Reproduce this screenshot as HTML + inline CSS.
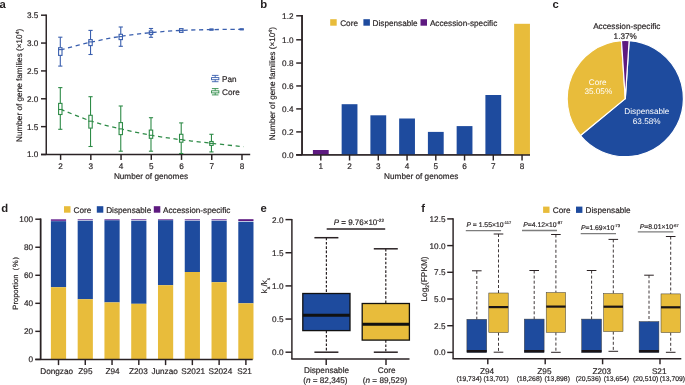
<!DOCTYPE html>
<html><head><meta charset="utf-8"><style>
html,body{margin:0;padding:0;background:#fff;width:685px;height:385px;overflow:hidden}
svg{display:block;font-family:"Liberation Sans",sans-serif;will-change:transform;text-rendering:geometricPrecision}
</style></head><body>
<svg width="685" height="385" viewBox="0 0 685 385">
<rect width="685" height="385" fill="#fff"/>
<text x="-0.60" y="8.20" font-size="11.3" text-anchor="start" fill="#231f20" stroke="#231f20" stroke-width="0" font-weight="bold" >a</text>
<line x1="46.25" y1="14.60" x2="46.25" y2="154.50" stroke="#2a2224" stroke-width="1.45" />
<line x1="41.00" y1="154.50" x2="250.20" y2="154.50" stroke="#2a2224" stroke-width="1.45" />
<line x1="41.00" y1="15.20" x2="46.25" y2="15.20" stroke="#2a2224" stroke-width="1.45" />
<text x="38.30" y="18.10" font-size="8.2" text-anchor="end" fill="#2a2526" stroke="#2a2526" stroke-width="0.18" font-weight="normal" >3.5</text>
<line x1="41.00" y1="43.06" x2="46.25" y2="43.06" stroke="#2a2224" stroke-width="1.45" />
<text x="38.30" y="45.96" font-size="8.2" text-anchor="end" fill="#2a2526" stroke="#2a2526" stroke-width="0.18" font-weight="normal" >3.0</text>
<line x1="41.00" y1="70.92" x2="46.25" y2="70.92" stroke="#2a2224" stroke-width="1.45" />
<text x="38.30" y="73.82" font-size="8.2" text-anchor="end" fill="#2a2526" stroke="#2a2526" stroke-width="0.18" font-weight="normal" >2.5</text>
<line x1="41.00" y1="98.78" x2="46.25" y2="98.78" stroke="#2a2224" stroke-width="1.45" />
<text x="38.30" y="101.68" font-size="8.2" text-anchor="end" fill="#2a2526" stroke="#2a2526" stroke-width="0.18" font-weight="normal" >2.0</text>
<line x1="41.00" y1="126.64" x2="46.25" y2="126.64" stroke="#2a2224" stroke-width="1.45" />
<text x="38.30" y="129.54" font-size="8.2" text-anchor="end" fill="#2a2526" stroke="#2a2526" stroke-width="0.18" font-weight="normal" >1.5</text>
<line x1="41.00" y1="154.50" x2="46.25" y2="154.50" stroke="#2a2224" stroke-width="1.45" />
<text x="38.30" y="157.40" font-size="8.2" text-anchor="end" fill="#2a2526" stroke="#2a2526" stroke-width="0.18" font-weight="normal" >1.0</text>
<line x1="60.60" y1="154.50" x2="60.60" y2="159.90" stroke="#2a2224" stroke-width="1.45" />
<text x="60.60" y="169.00" font-size="8.2" text-anchor="middle" fill="#2a2526" stroke="#2a2526" stroke-width="0.18" font-weight="normal" >2</text>
<line x1="90.83" y1="154.50" x2="90.83" y2="159.90" stroke="#2a2224" stroke-width="1.45" />
<text x="90.83" y="169.00" font-size="8.2" text-anchor="middle" fill="#2a2526" stroke="#2a2526" stroke-width="0.18" font-weight="normal" >3</text>
<line x1="121.06" y1="154.50" x2="121.06" y2="159.90" stroke="#2a2224" stroke-width="1.45" />
<text x="121.06" y="169.00" font-size="8.2" text-anchor="middle" fill="#2a2526" stroke="#2a2526" stroke-width="0.18" font-weight="normal" >4</text>
<line x1="151.29" y1="154.50" x2="151.29" y2="159.90" stroke="#2a2224" stroke-width="1.45" />
<text x="151.29" y="169.00" font-size="8.2" text-anchor="middle" fill="#2a2526" stroke="#2a2526" stroke-width="0.18" font-weight="normal" >5</text>
<line x1="181.52" y1="154.50" x2="181.52" y2="159.90" stroke="#2a2224" stroke-width="1.45" />
<text x="181.52" y="169.00" font-size="8.2" text-anchor="middle" fill="#2a2526" stroke="#2a2526" stroke-width="0.18" font-weight="normal" >6</text>
<line x1="211.75" y1="154.50" x2="211.75" y2="159.90" stroke="#2a2224" stroke-width="1.45" />
<text x="211.75" y="169.00" font-size="8.2" text-anchor="middle" fill="#2a2526" stroke="#2a2526" stroke-width="0.18" font-weight="normal" >7</text>
<line x1="241.98" y1="154.50" x2="241.98" y2="159.90" stroke="#2a2224" stroke-width="1.45" />
<text x="241.98" y="169.00" font-size="8.2" text-anchor="middle" fill="#2a2526" stroke="#2a2526" stroke-width="0.18" font-weight="normal" >8</text>
<text x="151.00" y="178.50" font-size="8.2" text-anchor="middle" fill="#2a2526" stroke="#2a2526" stroke-width="0.18" font-weight="normal" >Number of genomes</text>
<g transform="translate(22,85.4) rotate(-90)">
<text x="0.00" y="0.00" font-size="8.2" text-anchor="middle" fill="#2a2526" stroke="#2a2526" stroke-width="0.18" font-weight="normal" >Number of gene families (×10<tspan font-size="5" dy="-3">4</tspan><tspan dy="3">)</tspan></text>
</g>
<path d="M60.60,49.80 C65.63,48.53 80.73,44.45 90.80,42.20 C100.87,39.95 110.92,37.90 121.00,36.30 C131.08,34.70 141.22,33.58 151.30,32.60 C161.38,31.62 171.42,30.90 181.50,30.40 C191.58,29.90 201.27,29.78 211.80,29.60 C222.33,29.42 239.22,29.35 244.70,29.30" fill="none" stroke="#3a5fae" stroke-width="1.3" stroke-dasharray="4.2 3.6"/>
<path d="M60.60,109.30 C65.63,111.25 80.73,117.72 90.80,121.00 C100.87,124.28 110.92,126.62 121.00,129.00 C131.08,131.38 141.22,133.50 151.30,135.30 C161.38,137.10 171.42,138.47 181.50,139.80 C191.58,141.13 201.47,142.15 211.80,143.30 C222.13,144.45 238.22,146.13 243.50,146.70" fill="none" stroke="#2e8b47" stroke-width="1.3" stroke-dasharray="4.2 3.6"/>
<line x1="60.30" y1="37.20" x2="60.30" y2="47.70" stroke="#3a5fae" stroke-width="1.1" />
<line x1="60.30" y1="55.40" x2="60.30" y2="66.10" stroke="#3a5fae" stroke-width="1.1" />
<line x1="58.20" y1="37.20" x2="62.40" y2="37.20" stroke="#3a5fae" stroke-width="1.1" />
<line x1="58.20" y1="66.10" x2="62.40" y2="66.10" stroke="#3a5fae" stroke-width="1.1" />
<rect x="58.60" y="47.70" width="3.40" height="7.70" fill="#fff" stroke="#3a5fae" stroke-width="1.1" />
<line x1="58.10" y1="49.60" x2="62.50" y2="49.60" stroke="#3a5fae" stroke-width="1.1" />
<line x1="90.53" y1="30.40" x2="90.53" y2="39.60" stroke="#3a5fae" stroke-width="1.1" />
<line x1="90.53" y1="45.60" x2="90.53" y2="54.50" stroke="#3a5fae" stroke-width="1.1" />
<line x1="88.43" y1="30.40" x2="92.63" y2="30.40" stroke="#3a5fae" stroke-width="1.1" />
<line x1="88.43" y1="54.50" x2="92.63" y2="54.50" stroke="#3a5fae" stroke-width="1.1" />
<rect x="88.83" y="39.60" width="3.40" height="6.00" fill="#fff" stroke="#3a5fae" stroke-width="1.1" />
<line x1="88.33" y1="41.90" x2="92.73" y2="41.90" stroke="#3a5fae" stroke-width="1.1" />
<line x1="120.76" y1="27.00" x2="120.76" y2="34.30" stroke="#3a5fae" stroke-width="1.1" />
<line x1="120.76" y1="39.60" x2="120.76" y2="46.30" stroke="#3a5fae" stroke-width="1.1" />
<line x1="118.66" y1="27.00" x2="122.86" y2="27.00" stroke="#3a5fae" stroke-width="1.1" />
<line x1="118.66" y1="46.30" x2="122.86" y2="46.30" stroke="#3a5fae" stroke-width="1.1" />
<rect x="119.06" y="34.30" width="3.40" height="5.30" fill="#fff" stroke="#3a5fae" stroke-width="1.1" />
<line x1="118.56" y1="36.60" x2="122.96" y2="36.60" stroke="#3a5fae" stroke-width="1.1" />
<line x1="150.99" y1="28.50" x2="150.99" y2="30.90" stroke="#3a5fae" stroke-width="1.1" />
<line x1="150.99" y1="34.50" x2="150.99" y2="37.30" stroke="#3a5fae" stroke-width="1.1" />
<line x1="148.89" y1="28.50" x2="153.09" y2="28.50" stroke="#3a5fae" stroke-width="1.1" />
<line x1="148.89" y1="37.30" x2="153.09" y2="37.30" stroke="#3a5fae" stroke-width="1.1" />
<rect x="149.29" y="30.90" width="3.40" height="3.60" fill="#fff" stroke="#3a5fae" stroke-width="1.1" />
<line x1="148.79" y1="32.60" x2="153.19" y2="32.60" stroke="#3a5fae" stroke-width="1.1" />
<line x1="181.22" y1="28.70" x2="181.22" y2="28.70" stroke="#3a5fae" stroke-width="1.1" />
<line x1="181.22" y1="32.30" x2="181.22" y2="32.30" stroke="#3a5fae" stroke-width="1.1" />
<line x1="179.12" y1="28.70" x2="183.32" y2="28.70" stroke="#3a5fae" stroke-width="1.1" />
<line x1="179.12" y1="32.30" x2="183.32" y2="32.30" stroke="#3a5fae" stroke-width="1.1" />
<rect x="179.52" y="28.70" width="3.40" height="3.60" fill="#fff" stroke="#3a5fae" stroke-width="1.1" />
<line x1="179.02" y1="30.40" x2="183.42" y2="30.40" stroke="#3a5fae" stroke-width="1.1" />
<line x1="211.45" y1="28.90" x2="211.45" y2="28.90" stroke="#3a5fae" stroke-width="1.1" />
<line x1="211.45" y1="30.20" x2="211.45" y2="30.20" stroke="#3a5fae" stroke-width="1.1" />
<line x1="209.35" y1="28.90" x2="213.55" y2="28.90" stroke="#3a5fae" stroke-width="1.1" />
<line x1="209.35" y1="30.20" x2="213.55" y2="30.20" stroke="#3a5fae" stroke-width="1.1" />
<line x1="209.25" y1="29.60" x2="213.65" y2="29.60" stroke="#3a5fae" stroke-width="1.1" />
<line x1="241.68" y1="28.80" x2="241.68" y2="28.80" stroke="#3a5fae" stroke-width="1.1" />
<line x1="241.68" y1="29.90" x2="241.68" y2="29.90" stroke="#3a5fae" stroke-width="1.1" />
<line x1="239.58" y1="28.80" x2="243.78" y2="28.80" stroke="#3a5fae" stroke-width="1.1" />
<line x1="239.58" y1="29.90" x2="243.78" y2="29.90" stroke="#3a5fae" stroke-width="1.1" />
<line x1="239.48" y1="29.30" x2="243.88" y2="29.30" stroke="#3a5fae" stroke-width="1.1" />
<line x1="60.30" y1="87.60" x2="60.30" y2="103.40" stroke="#2e8b47" stroke-width="1.1" />
<line x1="60.30" y1="114.50" x2="60.30" y2="129.30" stroke="#2e8b47" stroke-width="1.1" />
<line x1="58.20" y1="87.60" x2="62.40" y2="87.60" stroke="#2e8b47" stroke-width="1.1" />
<line x1="58.20" y1="129.30" x2="62.40" y2="129.30" stroke="#2e8b47" stroke-width="1.1" />
<rect x="58.60" y="103.40" width="3.40" height="11.10" fill="#fff" stroke="#2e8b47" stroke-width="1.1" />
<line x1="58.10" y1="109.50" x2="62.50" y2="109.50" stroke="#2e8b47" stroke-width="1.1" />
<line x1="90.53" y1="96.70" x2="90.53" y2="115.30" stroke="#2e8b47" stroke-width="1.1" />
<line x1="90.53" y1="128.10" x2="90.53" y2="146.50" stroke="#2e8b47" stroke-width="1.1" />
<line x1="88.43" y1="96.70" x2="92.63" y2="96.70" stroke="#2e8b47" stroke-width="1.1" />
<line x1="88.43" y1="146.50" x2="92.63" y2="146.50" stroke="#2e8b47" stroke-width="1.1" />
<rect x="88.83" y="115.30" width="3.40" height="12.80" fill="#fff" stroke="#2e8b47" stroke-width="1.1" />
<line x1="88.33" y1="121.20" x2="92.73" y2="121.20" stroke="#2e8b47" stroke-width="1.1" />
<line x1="120.76" y1="106.00" x2="120.76" y2="122.60" stroke="#2e8b47" stroke-width="1.1" />
<line x1="120.76" y1="134.60" x2="120.76" y2="151.20" stroke="#2e8b47" stroke-width="1.1" />
<line x1="118.66" y1="106.00" x2="122.86" y2="106.00" stroke="#2e8b47" stroke-width="1.1" />
<line x1="118.66" y1="151.20" x2="122.86" y2="151.20" stroke="#2e8b47" stroke-width="1.1" />
<rect x="119.06" y="122.60" width="3.40" height="12.00" fill="#fff" stroke="#2e8b47" stroke-width="1.1" />
<line x1="118.56" y1="128.90" x2="122.96" y2="128.90" stroke="#2e8b47" stroke-width="1.1" />
<line x1="150.99" y1="117.70" x2="150.99" y2="130.10" stroke="#2e8b47" stroke-width="1.1" />
<line x1="150.99" y1="138.30" x2="150.99" y2="151.20" stroke="#2e8b47" stroke-width="1.1" />
<line x1="148.89" y1="117.70" x2="153.09" y2="117.70" stroke="#2e8b47" stroke-width="1.1" />
<line x1="148.89" y1="151.20" x2="153.09" y2="151.20" stroke="#2e8b47" stroke-width="1.1" />
<rect x="149.29" y="130.10" width="3.40" height="8.20" fill="#fff" stroke="#2e8b47" stroke-width="1.1" />
<line x1="148.79" y1="135.30" x2="153.19" y2="135.30" stroke="#2e8b47" stroke-width="1.1" />
<line x1="181.22" y1="122.90" x2="181.22" y2="134.30" stroke="#2e8b47" stroke-width="1.1" />
<line x1="181.22" y1="142.20" x2="181.22" y2="153.50" stroke="#2e8b47" stroke-width="1.1" />
<line x1="179.12" y1="122.90" x2="183.32" y2="122.90" stroke="#2e8b47" stroke-width="1.1" />
<line x1="179.12" y1="153.50" x2="183.32" y2="153.50" stroke="#2e8b47" stroke-width="1.1" />
<rect x="179.52" y="134.30" width="3.40" height="7.90" fill="#fff" stroke="#2e8b47" stroke-width="1.1" />
<line x1="179.02" y1="139.60" x2="183.42" y2="139.60" stroke="#2e8b47" stroke-width="1.1" />
<line x1="211.45" y1="134.30" x2="211.45" y2="141.50" stroke="#2e8b47" stroke-width="1.1" />
<line x1="211.45" y1="145.40" x2="211.45" y2="151.90" stroke="#2e8b47" stroke-width="1.1" />
<line x1="209.35" y1="134.30" x2="213.55" y2="134.30" stroke="#2e8b47" stroke-width="1.1" />
<line x1="209.35" y1="151.90" x2="213.55" y2="151.90" stroke="#2e8b47" stroke-width="1.1" />
<rect x="209.75" y="141.50" width="3.40" height="3.90" fill="#fff" stroke="#2e8b47" stroke-width="1.1" />
<line x1="209.25" y1="143.40" x2="213.65" y2="143.40" stroke="#2e8b47" stroke-width="1.1" />
<line x1="211.90" y1="75.40" x2="218.50" y2="75.40" stroke="#3a5fae" stroke-width="0.9" />
<line x1="215.20" y1="75.40" x2="215.20" y2="77.60" stroke="#3a5fae" stroke-width="0.9" />
<rect x="211.55" y="77.60" width="7.30" height="2.10" fill="#fff" stroke="#3a5fae" stroke-width="0.9" />
<line x1="215.20" y1="79.70" x2="215.20" y2="81.70" stroke="#3a5fae" stroke-width="0.9" />
<line x1="211.90" y1="81.70" x2="218.50" y2="81.70" stroke="#3a5fae" stroke-width="0.9" />
<text x="222.00" y="81.90" font-size="8.2" text-anchor="start" fill="#2a2526" stroke="#2a2526" stroke-width="0.18" font-weight="normal" >Pan</text>
<line x1="211.90" y1="88.60" x2="218.50" y2="88.60" stroke="#2e8b47" stroke-width="0.9" />
<line x1="215.20" y1="88.60" x2="215.20" y2="90.80" stroke="#2e8b47" stroke-width="0.9" />
<rect x="211.55" y="90.80" width="7.30" height="2.10" fill="#fff" stroke="#2e8b47" stroke-width="0.9" />
<line x1="215.20" y1="92.90" x2="215.20" y2="94.90" stroke="#2e8b47" stroke-width="0.9" />
<line x1="211.90" y1="94.90" x2="218.50" y2="94.90" stroke="#2e8b47" stroke-width="0.9" />
<text x="222.00" y="95.20" font-size="8.2" text-anchor="start" fill="#2a2526" stroke="#2a2526" stroke-width="0.18" font-weight="normal" >Core</text>
<text x="260.30" y="8.20" font-size="11.3" text-anchor="start" fill="#231f20" stroke="#231f20" stroke-width="0" font-weight="bold" >b</text>
<line x1="302.05" y1="15.10" x2="302.05" y2="154.85" stroke="#2a2224" stroke-width="1.45" />
<line x1="296.20" y1="154.85" x2="530.00" y2="154.85" stroke="#2a2224" stroke-width="1.45" />
<line x1="296.20" y1="154.85" x2="302.05" y2="154.85" stroke="#2a2224" stroke-width="1.45" />
<text x="293.50" y="157.75" font-size="8.2" text-anchor="end" fill="#2a2526" stroke="#2a2526" stroke-width="0.18" font-weight="normal" >0.0</text>
<line x1="296.20" y1="131.90" x2="302.05" y2="131.90" stroke="#2a2224" stroke-width="1.45" />
<text x="293.50" y="134.80" font-size="8.2" text-anchor="end" fill="#2a2526" stroke="#2a2526" stroke-width="0.18" font-weight="normal" >0.2</text>
<line x1="296.20" y1="108.90" x2="302.05" y2="108.90" stroke="#2a2224" stroke-width="1.45" />
<text x="293.50" y="111.80" font-size="8.2" text-anchor="end" fill="#2a2526" stroke="#2a2526" stroke-width="0.18" font-weight="normal" >0.4</text>
<line x1="296.20" y1="85.95" x2="302.05" y2="85.95" stroke="#2a2224" stroke-width="1.45" />
<text x="293.50" y="88.85" font-size="8.2" text-anchor="end" fill="#2a2526" stroke="#2a2526" stroke-width="0.18" font-weight="normal" >0.6</text>
<line x1="296.20" y1="63.05" x2="302.05" y2="63.05" stroke="#2a2224" stroke-width="1.45" />
<text x="293.50" y="65.95" font-size="8.2" text-anchor="end" fill="#2a2526" stroke="#2a2526" stroke-width="0.18" font-weight="normal" >0.8</text>
<line x1="296.20" y1="39.80" x2="302.05" y2="39.80" stroke="#2a2224" stroke-width="1.45" />
<text x="293.50" y="42.70" font-size="8.2" text-anchor="end" fill="#2a2526" stroke="#2a2526" stroke-width="0.18" font-weight="normal" >1.0</text>
<line x1="296.20" y1="15.80" x2="302.05" y2="15.80" stroke="#2a2224" stroke-width="1.45" />
<text x="293.50" y="18.70" font-size="8.2" text-anchor="end" fill="#2a2526" stroke="#2a2526" stroke-width="0.18" font-weight="normal" >1.2</text>
<rect x="312.90" y="150.00" width="15.80" height="4.85" fill="#5e1a80" stroke="none" stroke-width="0" />
<rect x="341.65" y="104.20" width="15.80" height="50.65" fill="#1e4b9e" stroke="none" stroke-width="0" />
<rect x="370.40" y="115.30" width="15.80" height="39.55" fill="#1e4b9e" stroke="none" stroke-width="0" />
<rect x="399.15" y="118.50" width="15.80" height="36.35" fill="#1e4b9e" stroke="none" stroke-width="0" />
<rect x="427.90" y="131.90" width="15.80" height="22.95" fill="#1e4b9e" stroke="none" stroke-width="0" />
<rect x="456.65" y="126.10" width="15.80" height="28.75" fill="#1e4b9e" stroke="none" stroke-width="0" />
<rect x="485.40" y="95.00" width="15.80" height="59.85" fill="#1e4b9e" stroke="none" stroke-width="0" />
<rect x="514.15" y="23.80" width="15.80" height="131.05" fill="#e8bc3b" stroke="none" stroke-width="0" />
<line x1="320.80" y1="154.85" x2="320.80" y2="160.50" stroke="#2a2224" stroke-width="1.45" />
<text x="320.80" y="168.90" font-size="8.2" text-anchor="middle" fill="#2a2526" stroke="#2a2526" stroke-width="0.18" font-weight="normal" >1</text>
<line x1="349.55" y1="154.85" x2="349.55" y2="160.50" stroke="#2a2224" stroke-width="1.45" />
<text x="349.55" y="168.90" font-size="8.2" text-anchor="middle" fill="#2a2526" stroke="#2a2526" stroke-width="0.18" font-weight="normal" >2</text>
<line x1="378.30" y1="154.85" x2="378.30" y2="160.50" stroke="#2a2224" stroke-width="1.45" />
<text x="378.30" y="168.90" font-size="8.2" text-anchor="middle" fill="#2a2526" stroke="#2a2526" stroke-width="0.18" font-weight="normal" >3</text>
<line x1="407.05" y1="154.85" x2="407.05" y2="160.50" stroke="#2a2224" stroke-width="1.45" />
<text x="407.05" y="168.90" font-size="8.2" text-anchor="middle" fill="#2a2526" stroke="#2a2526" stroke-width="0.18" font-weight="normal" >4</text>
<line x1="435.80" y1="154.85" x2="435.80" y2="160.50" stroke="#2a2224" stroke-width="1.45" />
<text x="435.80" y="168.90" font-size="8.2" text-anchor="middle" fill="#2a2526" stroke="#2a2526" stroke-width="0.18" font-weight="normal" >5</text>
<line x1="464.55" y1="154.85" x2="464.55" y2="160.50" stroke="#2a2224" stroke-width="1.45" />
<text x="464.55" y="168.90" font-size="8.2" text-anchor="middle" fill="#2a2526" stroke="#2a2526" stroke-width="0.18" font-weight="normal" >6</text>
<line x1="493.30" y1="154.85" x2="493.30" y2="160.50" stroke="#2a2224" stroke-width="1.45" />
<text x="493.30" y="168.90" font-size="8.2" text-anchor="middle" fill="#2a2526" stroke="#2a2526" stroke-width="0.18" font-weight="normal" >7</text>
<line x1="522.05" y1="154.85" x2="522.05" y2="160.50" stroke="#2a2224" stroke-width="1.45" />
<text x="522.05" y="168.90" font-size="8.2" text-anchor="middle" fill="#2a2526" stroke="#2a2526" stroke-width="0.18" font-weight="normal" >8</text>
<line x1="296.20" y1="154.85" x2="530.00" y2="154.85" stroke="#2a2224" stroke-width="1.45" />
<line x1="302.05" y1="15.10" x2="302.05" y2="154.85" stroke="#2a2224" stroke-width="1.45" />
<text x="421.20" y="178.50" font-size="8.2" text-anchor="middle" fill="#2a2526" stroke="#2a2526" stroke-width="0.18" font-weight="normal" >Number of genomes</text>
<g transform="translate(274.9,83.7) rotate(-90)">
<text x="0.00" y="0.00" font-size="8.2" text-anchor="middle" fill="#2a2526" stroke="#2a2526" stroke-width="0.18" font-weight="normal" >Number of gene families (×10<tspan font-size="5" dy="-3">4</tspan><tspan dy="3">)</tspan></text>
</g>
<rect x="330.20" y="19.20" width="6.50" height="6.50" fill="#e8bc3b" stroke="none" stroke-width="0" />
<text x="340.20" y="25.80" font-size="8.2" text-anchor="start" fill="#2a2526" stroke="#2a2526" stroke-width="0.18" font-weight="normal" >Core</text>
<rect x="363.40" y="19.20" width="6.50" height="6.50" fill="#1e4b9e" stroke="none" stroke-width="0" />
<text x="372.60" y="25.80" font-size="8.2" text-anchor="start" fill="#2a2526" stroke="#2a2526" stroke-width="0.18" font-weight="normal" >Dispensable</text>
<rect x="420.50" y="19.20" width="6.50" height="6.50" fill="#5e1a80" stroke="none" stroke-width="0" />
<text x="429.90" y="25.80" font-size="8.2" text-anchor="start" fill="#2a2526" stroke="#2a2526" stroke-width="0.18" font-weight="normal" >Accession-specific</text>
<text x="552.50" y="8.20" font-size="11.3" text-anchor="start" fill="#231f20" stroke="#231f20" stroke-width="0" font-weight="bold" >c</text>
<path d="M625.3,98.6 L629.15,40.63 A58.1,58.1 0 1 1 580.47,135.56 Z" fill="#1e4b9e" stroke="#fff" stroke-width="1.2" stroke-linejoin="round"/>
<path d="M625.3,98.6 L580.47,135.56 A58.1,58.1 0 0 1 621.45,40.63 Z" fill="#e8bc3b" stroke="#fff" stroke-width="1.2" stroke-linejoin="round"/>
<path d="M625.3,98.6 L621.45,40.63 A58.1,58.1 0 0 1 629.15,40.63 Z" fill="#5e1a80" stroke="#fff" stroke-width="1.2" stroke-linejoin="round"/>
<text x="626.80" y="28.80" font-size="8.2" text-anchor="middle" fill="#2a2526" stroke="#2a2526" stroke-width="0.18" font-weight="normal" >Accession-specific</text>
<text x="625.20" y="38.70" font-size="8.2" text-anchor="middle" fill="#2a2526" stroke="#2a2526" stroke-width="0.18" font-weight="normal" >1.37%</text>
<text x="597.60" y="84.80" font-size="8.2" text-anchor="middle" fill="#fff" stroke="#fff" stroke-width="0" font-weight="normal" >Core</text>
<text x="598.30" y="94.10" font-size="8.2" text-anchor="middle" fill="#fff" stroke="#fff" stroke-width="0" font-weight="normal" >35.05%</text>
<text x="646.90" y="114.00" font-size="8.2" text-anchor="middle" fill="#fff" stroke="#fff" stroke-width="0" font-weight="normal" >Dispensable</text>
<text x="646.70" y="124.10" font-size="8.2" text-anchor="middle" fill="#fff" stroke="#fff" stroke-width="0" font-weight="normal" >63.58%</text>
<text x="1.20" y="212.00" font-size="11.3" text-anchor="start" fill="#231f20" stroke="#231f20" stroke-width="0" font-weight="bold" >d</text>
<line x1="40.60" y1="218.60" x2="40.60" y2="359.40" stroke="#2a2224" stroke-width="1.45" />
<line x1="35.30" y1="359.40" x2="40.60" y2="359.40" stroke="#2a2224" stroke-width="1.45" />
<text x="33.00" y="362.30" font-size="8.2" text-anchor="end" fill="#2a2526" stroke="#2a2526" stroke-width="0.18" font-weight="normal" >0</text>
<line x1="35.30" y1="331.36" x2="40.60" y2="331.36" stroke="#2a2224" stroke-width="1.45" />
<text x="33.00" y="334.26" font-size="8.2" text-anchor="end" fill="#2a2526" stroke="#2a2526" stroke-width="0.18" font-weight="normal" >20</text>
<line x1="35.30" y1="303.32" x2="40.60" y2="303.32" stroke="#2a2224" stroke-width="1.45" />
<text x="33.00" y="306.22" font-size="8.2" text-anchor="end" fill="#2a2526" stroke="#2a2526" stroke-width="0.18" font-weight="normal" >40</text>
<line x1="35.30" y1="275.28" x2="40.60" y2="275.28" stroke="#2a2224" stroke-width="1.45" />
<text x="33.00" y="278.18" font-size="8.2" text-anchor="end" fill="#2a2526" stroke="#2a2526" stroke-width="0.18" font-weight="normal" >60</text>
<line x1="35.30" y1="247.24" x2="40.60" y2="247.24" stroke="#2a2224" stroke-width="1.45" />
<text x="33.00" y="250.14" font-size="8.2" text-anchor="end" fill="#2a2526" stroke="#2a2526" stroke-width="0.18" font-weight="normal" >80</text>
<line x1="35.30" y1="219.20" x2="40.60" y2="219.20" stroke="#2a2224" stroke-width="1.45" />
<text x="33.00" y="222.10" font-size="8.2" text-anchor="end" fill="#2a2526" stroke="#2a2526" stroke-width="0.18" font-weight="normal" >100</text>
<rect x="50.90" y="219.20" width="15.20" height="2.00" fill="#7a3f9e" stroke="none" stroke-width="0" />
<rect x="50.90" y="221.20" width="15.20" height="66.00" fill="#1e4b9e" stroke="none" stroke-width="0" />
<rect x="50.90" y="287.20" width="15.20" height="72.20" fill="#e8bc3b" stroke="none" stroke-width="0" />
<line x1="58.50" y1="359.40" x2="58.50" y2="365.10" stroke="#2a2224" stroke-width="1.45" />
<text x="56.65" y="373.90" font-size="8.2" text-anchor="middle" fill="#2a2526" stroke="#2a2526" stroke-width="0.18" font-weight="normal" >Dongzao</text>
<rect x="77.67" y="219.20" width="15.20" height="0.90" fill="#7a3f9e" stroke="none" stroke-width="0" />
<rect x="77.67" y="220.70" width="15.20" height="78.50" fill="#1e4b9e" stroke="none" stroke-width="0" />
<rect x="77.67" y="299.20" width="15.20" height="60.20" fill="#e8bc3b" stroke="none" stroke-width="0" />
<line x1="85.27" y1="359.40" x2="85.27" y2="365.10" stroke="#2a2224" stroke-width="1.45" />
<text x="85.40" y="373.90" font-size="8.2" text-anchor="middle" fill="#2a2526" stroke="#2a2526" stroke-width="0.18" font-weight="normal" >Z95</text>
<rect x="104.44" y="219.20" width="15.20" height="1.10" fill="#7a3f9e" stroke="none" stroke-width="0" />
<rect x="104.44" y="220.30" width="15.20" height="82.10" fill="#1e4b9e" stroke="none" stroke-width="0" />
<rect x="104.44" y="302.40" width="15.20" height="57.00" fill="#e8bc3b" stroke="none" stroke-width="0" />
<line x1="112.04" y1="359.40" x2="112.04" y2="365.10" stroke="#2a2224" stroke-width="1.45" />
<text x="112.50" y="373.90" font-size="8.2" text-anchor="middle" fill="#2a2526" stroke="#2a2526" stroke-width="0.18" font-weight="normal" >Z94</text>
<rect x="131.21" y="219.20" width="15.20" height="0.90" fill="#7a3f9e" stroke="none" stroke-width="0" />
<rect x="131.21" y="220.70" width="15.20" height="83.10" fill="#1e4b9e" stroke="none" stroke-width="0" />
<rect x="131.21" y="303.80" width="15.20" height="55.60" fill="#e8bc3b" stroke="none" stroke-width="0" />
<line x1="138.81" y1="359.40" x2="138.81" y2="365.10" stroke="#2a2224" stroke-width="1.45" />
<text x="138.40" y="373.90" font-size="8.2" text-anchor="middle" fill="#2a2526" stroke="#2a2526" stroke-width="0.18" font-weight="normal" >Z203</text>
<rect x="157.98" y="219.20" width="15.20" height="1.00" fill="#7a3f9e" stroke="none" stroke-width="0" />
<rect x="157.98" y="220.20" width="15.20" height="65.00" fill="#1e4b9e" stroke="none" stroke-width="0" />
<rect x="157.98" y="285.20" width="15.20" height="74.20" fill="#e8bc3b" stroke="none" stroke-width="0" />
<line x1="165.58" y1="359.40" x2="165.58" y2="365.10" stroke="#2a2224" stroke-width="1.45" />
<text x="164.60" y="373.90" font-size="8.2" text-anchor="middle" fill="#2a2526" stroke="#2a2526" stroke-width="0.18" font-weight="normal" >Junzao</text>
<rect x="184.75" y="219.20" width="15.20" height="1.00" fill="#7a3f9e" stroke="none" stroke-width="0" />
<rect x="184.75" y="220.70" width="15.20" height="51.30" fill="#1e4b9e" stroke="none" stroke-width="0" />
<rect x="184.75" y="272.00" width="15.20" height="87.40" fill="#e8bc3b" stroke="none" stroke-width="0" />
<line x1="192.35" y1="359.40" x2="192.35" y2="365.10" stroke="#2a2224" stroke-width="1.45" />
<text x="193.20" y="373.90" font-size="8.2" text-anchor="middle" fill="#2a2526" stroke="#2a2526" stroke-width="0.18" font-weight="normal" >S2021</text>
<rect x="211.52" y="219.20" width="15.20" height="1.00" fill="#7a3f9e" stroke="none" stroke-width="0" />
<rect x="211.52" y="220.70" width="15.20" height="61.50" fill="#1e4b9e" stroke="none" stroke-width="0" />
<rect x="211.52" y="282.20" width="15.20" height="77.20" fill="#e8bc3b" stroke="none" stroke-width="0" />
<line x1="219.12" y1="359.40" x2="219.12" y2="365.10" stroke="#2a2224" stroke-width="1.45" />
<text x="220.40" y="373.90" font-size="8.2" text-anchor="middle" fill="#2a2526" stroke="#2a2526" stroke-width="0.18" font-weight="normal" >S2024</text>
<rect x="238.29" y="219.20" width="15.20" height="1.80" fill="#5e1a80" stroke="none" stroke-width="0" />
<rect x="238.29" y="221.70" width="15.20" height="81.60" fill="#1e4b9e" stroke="none" stroke-width="0" />
<rect x="238.29" y="303.30" width="15.20" height="56.10" fill="#e8bc3b" stroke="none" stroke-width="0" />
<line x1="245.89" y1="359.40" x2="245.89" y2="365.10" stroke="#2a2224" stroke-width="1.45" />
<text x="244.50" y="373.90" font-size="8.2" text-anchor="middle" fill="#2a2526" stroke="#2a2526" stroke-width="0.18" font-weight="normal" >S21</text>
<line x1="35.30" y1="359.40" x2="252.70" y2="359.40" stroke="#2a2224" stroke-width="1.45" />
<line x1="40.60" y1="218.60" x2="40.60" y2="359.40" stroke="#2a2224" stroke-width="1.45" />
<rect x="64.00" y="206.20" width="6.50" height="6.50" fill="#e8bc3b" stroke="none" stroke-width="0" />
<text x="73.50" y="212.80" font-size="8.2" text-anchor="start" fill="#2a2526" stroke="#2a2526" stroke-width="0.18" font-weight="normal" >Core</text>
<rect x="96.80" y="206.20" width="6.50" height="6.50" fill="#1e4b9e" stroke="none" stroke-width="0" />
<text x="106.20" y="212.80" font-size="8.2" text-anchor="start" fill="#2a2526" stroke="#2a2526" stroke-width="0.18" font-weight="normal" >Dispensable</text>
<rect x="153.80" y="206.20" width="6.50" height="6.50" fill="#5e1a80" stroke="none" stroke-width="0" />
<text x="163.00" y="212.80" font-size="8.2" text-anchor="start" fill="#2a2526" stroke="#2a2526" stroke-width="0.18" font-weight="normal" >Accession-specific</text>
<g transform="translate(18.3,281.2) rotate(-90)">
<text x="0.00" y="0.00" font-size="7.6" text-anchor="middle" fill="#2a2526" stroke="#2a2526" stroke-width="0.18" font-weight="normal" >Proportion（%）</text>
</g>
<text x="260.50" y="211.70" font-size="11.3" text-anchor="start" fill="#231f20" stroke="#231f20" stroke-width="0" font-weight="bold" >e</text>
<line x1="291.90" y1="218.90" x2="291.90" y2="358.90" stroke="#2a2224" stroke-width="1.45" />
<line x1="291.30" y1="358.90" x2="409.50" y2="358.90" stroke="#2a2224" stroke-width="1.45" />
<line x1="285.50" y1="352.20" x2="291.90" y2="352.20" stroke="#2a2224" stroke-width="1.45" />
<text x="283.50" y="355.10" font-size="8.2" text-anchor="end" fill="#2a2526" stroke="#2a2526" stroke-width="0.18" font-weight="normal" >0.0</text>
<line x1="285.50" y1="319.05" x2="291.90" y2="319.05" stroke="#2a2224" stroke-width="1.45" />
<text x="283.50" y="321.95" font-size="8.2" text-anchor="end" fill="#2a2526" stroke="#2a2526" stroke-width="0.18" font-weight="normal" >0.5</text>
<line x1="285.50" y1="285.90" x2="291.90" y2="285.90" stroke="#2a2224" stroke-width="1.45" />
<text x="283.50" y="288.80" font-size="8.2" text-anchor="end" fill="#2a2526" stroke="#2a2526" stroke-width="0.18" font-weight="normal" >1.0</text>
<line x1="285.50" y1="252.75" x2="291.90" y2="252.75" stroke="#2a2224" stroke-width="1.45" />
<text x="283.50" y="255.65" font-size="8.2" text-anchor="end" fill="#2a2526" stroke="#2a2526" stroke-width="0.18" font-weight="normal" >1.5</text>
<line x1="285.50" y1="219.60" x2="291.90" y2="219.60" stroke="#2a2224" stroke-width="1.45" />
<text x="283.50" y="222.50" font-size="8.2" text-anchor="end" fill="#2a2526" stroke="#2a2526" stroke-width="0.18" font-weight="normal" >2.0</text>
<line x1="326.40" y1="237.70" x2="326.40" y2="293.50" stroke="#2a2224" stroke-width="1.2" stroke-dasharray="2.6 1.7"/>
<line x1="326.40" y1="330.60" x2="326.40" y2="352.20" stroke="#2a2224" stroke-width="1.2" stroke-dasharray="2.6 1.7"/>
<line x1="314.40" y1="237.70" x2="338.40" y2="237.70" stroke="#2a2224" stroke-width="1.5" />
<line x1="314.40" y1="352.20" x2="338.40" y2="352.20" stroke="#2a2224" stroke-width="1.5" />
<rect x="302.80" y="293.50" width="47.20" height="37.10" fill="#1e4b9e" stroke="#111" stroke-width="1.3" />
<line x1="302.80" y1="315.20" x2="350.00" y2="315.20" stroke="#111" stroke-width="3" />
<line x1="385.80" y1="248.80" x2="385.80" y2="303.50" stroke="#2a2224" stroke-width="1.2" stroke-dasharray="2.6 1.7"/>
<line x1="385.80" y1="340.10" x2="385.80" y2="352.20" stroke="#2a2224" stroke-width="1.2" stroke-dasharray="2.6 1.7"/>
<line x1="373.80" y1="248.80" x2="397.80" y2="248.80" stroke="#2a2224" stroke-width="1.5" />
<line x1="373.80" y1="352.20" x2="397.80" y2="352.20" stroke="#2a2224" stroke-width="1.5" />
<rect x="362.20" y="303.50" width="47.20" height="36.60" fill="#e8bc3b" stroke="#111" stroke-width="1.3" />
<line x1="362.20" y1="324.30" x2="409.40" y2="324.30" stroke="#111" stroke-width="3" />
<line x1="326.20" y1="358.90" x2="326.20" y2="365.10" stroke="#2a2224" stroke-width="1.45" />
<line x1="386.00" y1="358.90" x2="386.00" y2="365.10" stroke="#2a2224" stroke-width="1.45" />
<line x1="326.70" y1="229.00" x2="385.20" y2="229.00" stroke="#2a2224" stroke-width="1.5" />
<text x="333.70" y="225.10" font-size="8" text-anchor="start" fill="#2a2526" stroke="#2a2526" stroke-width="0.18" font-weight="normal" ><tspan font-style="italic">P</tspan> = 9.76×10<tspan font-size="4.6" dy="-3">-22</tspan></text>
<text x="326.50" y="372.70" font-size="8.2" text-anchor="middle" fill="#2a2526" stroke="#2a2526" stroke-width="0.18" font-weight="normal" >Dispensable</text>
<text x="325.40" y="383.30" font-size="8.2" text-anchor="middle" fill="#2a2526" stroke="#2a2526" stroke-width="0.18" font-weight="normal" >(<tspan font-style="italic">n</tspan> = 82,345)</text>
<text x="386.70" y="372.70" font-size="8.2" text-anchor="middle" fill="#2a2526" stroke="#2a2526" stroke-width="0.18" font-weight="normal" >Core</text>
<text x="385.00" y="383.30" font-size="8.2" text-anchor="middle" fill="#2a2526" stroke="#2a2526" stroke-width="0.18" font-weight="normal" >(<tspan font-style="italic">n</tspan> = 89,529)</text>
<g transform="translate(267.4,285.6) rotate(-90)">
<text x="0.00" y="0.00" font-size="8.2" text-anchor="middle" fill="#2a2526" stroke="#2a2526" stroke-width="0.18" font-weight="normal" >k<tspan font-size="4.6" dy="2.2">a</tspan><tspan dy="-2.2">/k</tspan><tspan font-size="4.6" dy="2.2">s</tspan></text>
</g>
<text x="421.20" y="211.70" font-size="11.3" text-anchor="start" fill="#231f20" stroke="#231f20" stroke-width="0" font-weight="bold" >f</text>
<line x1="453.10" y1="218.30" x2="453.10" y2="358.80" stroke="#2a2224" stroke-width="1.45" />
<line x1="452.50" y1="358.80" x2="681.30" y2="358.80" stroke="#2a2224" stroke-width="1.45" />
<line x1="447.20" y1="352.40" x2="453.10" y2="352.40" stroke="#2a2224" stroke-width="1.45" />
<text x="445.50" y="355.30" font-size="8.2" text-anchor="end" fill="#2a2526" stroke="#2a2526" stroke-width="0.18" font-weight="normal" >0.0</text>
<line x1="447.20" y1="325.70" x2="453.10" y2="325.70" stroke="#2a2224" stroke-width="1.45" />
<text x="445.50" y="328.60" font-size="8.2" text-anchor="end" fill="#2a2526" stroke="#2a2526" stroke-width="0.18" font-weight="normal" >2.5</text>
<line x1="447.20" y1="299.00" x2="453.10" y2="299.00" stroke="#2a2224" stroke-width="1.45" />
<text x="445.50" y="301.90" font-size="8.2" text-anchor="end" fill="#2a2526" stroke="#2a2526" stroke-width="0.18" font-weight="normal" >5.0</text>
<line x1="447.20" y1="272.30" x2="453.10" y2="272.30" stroke="#2a2224" stroke-width="1.45" />
<text x="445.50" y="275.20" font-size="8.2" text-anchor="end" fill="#2a2526" stroke="#2a2526" stroke-width="0.18" font-weight="normal" >7.5</text>
<line x1="447.20" y1="245.60" x2="453.10" y2="245.60" stroke="#2a2224" stroke-width="1.45" />
<text x="445.50" y="248.50" font-size="8.2" text-anchor="end" fill="#2a2526" stroke="#2a2526" stroke-width="0.18" font-weight="normal" >10.0</text>
<line x1="447.20" y1="218.90" x2="453.10" y2="218.90" stroke="#2a2224" stroke-width="1.45" />
<text x="445.50" y="221.80" font-size="8.2" text-anchor="end" fill="#2a2526" stroke="#2a2526" stroke-width="0.18" font-weight="normal" >12.5</text>
<line x1="476.80" y1="270.80" x2="476.80" y2="319.30" stroke="#2a2224" stroke-width="0.9" stroke-dasharray="3 2.1"/>
<line x1="472.00" y1="270.80" x2="481.60" y2="270.80" stroke="#2a2224" stroke-width="1.0" />
<rect x="466.90" y="319.30" width="19.80" height="33.10" fill="#1e4b9e" stroke="#3a3a3a" stroke-width="0.5" />
<rect x="466.90" y="350.00" width="19.80" height="2.40" fill="#1a1416" stroke="none" stroke-width="0" />
<line x1="498.50" y1="234.00" x2="498.50" y2="293.00" stroke="#2a2224" stroke-width="0.9" stroke-dasharray="3 2.1"/>
<line x1="498.50" y1="332.60" x2="498.50" y2="352.20" stroke="#2a2224" stroke-width="0.9" stroke-dasharray="3 2.1"/>
<line x1="493.70" y1="234.00" x2="503.30" y2="234.00" stroke="#2a2224" stroke-width="1.0" />
<line x1="493.70" y1="352.20" x2="503.30" y2="352.20" stroke="#2a2224" stroke-width="1.0" />
<rect x="488.80" y="293.00" width="19.40" height="39.60" fill="#e8bc3b" stroke="#3a3a3a" stroke-width="0.5" />
<line x1="488.80" y1="307.10" x2="508.20" y2="307.10" stroke="#1a1416" stroke-width="2.2" />
<line x1="487.80" y1="358.80" x2="487.80" y2="364.30" stroke="#2a2224" stroke-width="1.45" />
<text x="487.00" y="373.50" font-size="8.2" text-anchor="middle" fill="#2a2526" stroke="#2a2526" stroke-width="0.18" font-weight="normal" >Z94</text>
<text x="469.05" y="381.20" font-size="6.8" text-anchor="middle" fill="#2a2526" stroke="#2a2526" stroke-width="0.18" font-weight="normal" >(19,734)</text>
<text x="496.15" y="381.20" font-size="6.8" text-anchor="middle" fill="#2a2526" stroke="#2a2526" stroke-width="0.18" font-weight="normal" >(13,701)</text>
<line x1="534.20" y1="270.50" x2="534.20" y2="319.10" stroke="#2a2224" stroke-width="0.9" stroke-dasharray="3 2.1"/>
<line x1="529.40" y1="270.50" x2="539.00" y2="270.50" stroke="#2a2224" stroke-width="1.0" />
<rect x="524.30" y="319.10" width="19.80" height="33.30" fill="#1e4b9e" stroke="#3a3a3a" stroke-width="0.5" />
<rect x="524.30" y="350.00" width="19.80" height="2.40" fill="#1a1416" stroke="none" stroke-width="0" />
<line x1="555.90" y1="234.50" x2="555.90" y2="292.50" stroke="#2a2224" stroke-width="0.9" stroke-dasharray="3 2.1"/>
<line x1="555.90" y1="332.40" x2="555.90" y2="352.30" stroke="#2a2224" stroke-width="0.9" stroke-dasharray="3 2.1"/>
<line x1="551.10" y1="234.50" x2="560.70" y2="234.50" stroke="#2a2224" stroke-width="1.0" />
<line x1="551.10" y1="352.30" x2="560.70" y2="352.30" stroke="#2a2224" stroke-width="1.0" />
<rect x="546.20" y="292.50" width="19.40" height="39.90" fill="#e8bc3b" stroke="#3a3a3a" stroke-width="0.5" />
<line x1="546.20" y1="306.60" x2="565.60" y2="306.60" stroke="#1a1416" stroke-width="2.2" />
<line x1="545.20" y1="358.80" x2="545.20" y2="364.30" stroke="#2a2224" stroke-width="1.45" />
<text x="544.40" y="373.50" font-size="8.2" text-anchor="middle" fill="#2a2526" stroke="#2a2526" stroke-width="0.18" font-weight="normal" >Z95</text>
<text x="529.30" y="381.20" font-size="6.8" text-anchor="middle" fill="#2a2526" stroke="#2a2526" stroke-width="0.18" font-weight="normal" >(18,268)</text>
<text x="557.25" y="381.20" font-size="6.8" text-anchor="middle" fill="#2a2526" stroke="#2a2526" stroke-width="0.18" font-weight="normal" >(13,898)</text>
<line x1="591.60" y1="270.50" x2="591.60" y2="319.10" stroke="#2a2224" stroke-width="0.9" stroke-dasharray="3 2.1"/>
<line x1="586.80" y1="270.50" x2="596.40" y2="270.50" stroke="#2a2224" stroke-width="1.0" />
<rect x="581.70" y="319.10" width="19.80" height="33.30" fill="#1e4b9e" stroke="#3a3a3a" stroke-width="0.5" />
<rect x="581.70" y="350.00" width="19.80" height="2.40" fill="#1a1416" stroke="none" stroke-width="0" />
<line x1="613.30" y1="239.40" x2="613.30" y2="293.50" stroke="#2a2224" stroke-width="0.9" stroke-dasharray="3 2.1"/>
<line x1="613.30" y1="331.60" x2="613.30" y2="351.30" stroke="#2a2224" stroke-width="0.9" stroke-dasharray="3 2.1"/>
<line x1="608.50" y1="239.40" x2="618.10" y2="239.40" stroke="#2a2224" stroke-width="1.0" />
<line x1="608.50" y1="351.30" x2="618.10" y2="351.30" stroke="#2a2224" stroke-width="1.0" />
<rect x="603.60" y="293.50" width="19.40" height="38.10" fill="#e8bc3b" stroke="#3a3a3a" stroke-width="0.5" />
<line x1="603.60" y1="306.70" x2="623.00" y2="306.70" stroke="#1a1416" stroke-width="2.2" />
<line x1="602.60" y1="358.80" x2="602.60" y2="364.30" stroke="#2a2224" stroke-width="1.45" />
<text x="601.80" y="373.50" font-size="8.2" text-anchor="middle" fill="#2a2526" stroke="#2a2526" stroke-width="0.18" font-weight="normal" >Z203</text>
<text x="588.30" y="381.20" font-size="6.8" text-anchor="middle" fill="#2a2526" stroke="#2a2526" stroke-width="0.18" font-weight="normal" >(20,536)</text>
<text x="616.45" y="381.20" font-size="6.8" text-anchor="middle" fill="#2a2526" stroke="#2a2526" stroke-width="0.18" font-weight="normal" >(13,654)</text>
<line x1="649.00" y1="275.20" x2="649.00" y2="321.60" stroke="#2a2224" stroke-width="0.9" stroke-dasharray="3 2.1"/>
<line x1="644.20" y1="275.20" x2="653.80" y2="275.20" stroke="#2a2224" stroke-width="1.0" />
<rect x="639.10" y="321.60" width="19.80" height="30.80" fill="#1e4b9e" stroke="#3a3a3a" stroke-width="0.5" />
<rect x="639.10" y="350.00" width="19.80" height="2.40" fill="#1a1416" stroke="none" stroke-width="0" />
<line x1="670.70" y1="236.50" x2="670.70" y2="293.90" stroke="#2a2224" stroke-width="0.9" stroke-dasharray="3 2.1"/>
<line x1="670.70" y1="332.60" x2="670.70" y2="352.30" stroke="#2a2224" stroke-width="0.9" stroke-dasharray="3 2.1"/>
<line x1="665.90" y1="236.50" x2="675.50" y2="236.50" stroke="#2a2224" stroke-width="1.0" />
<line x1="665.90" y1="352.30" x2="675.50" y2="352.30" stroke="#2a2224" stroke-width="1.0" />
<rect x="661.00" y="293.90" width="19.40" height="38.70" fill="#e8bc3b" stroke="#3a3a3a" stroke-width="0.5" />
<line x1="661.00" y1="307.30" x2="680.40" y2="307.30" stroke="#1a1416" stroke-width="2.2" />
<line x1="660.00" y1="358.80" x2="660.00" y2="364.30" stroke="#2a2224" stroke-width="1.45" />
<text x="659.20" y="373.50" font-size="8.2" text-anchor="middle" fill="#2a2526" stroke="#2a2526" stroke-width="0.18" font-weight="normal" >S21</text>
<text x="645.70" y="381.20" font-size="6.8" text-anchor="middle" fill="#2a2526" stroke="#2a2526" stroke-width="0.18" font-weight="normal" >(20,510)</text>
<text x="672.45" y="381.20" font-size="6.8" text-anchor="middle" fill="#2a2526" stroke="#2a2526" stroke-width="0.18" font-weight="normal" >(13,709)</text>
<line x1="465.80" y1="230.60" x2="501.10" y2="230.60" stroke="#7d7d7d" stroke-width="1.3" />
<line x1="522.00" y1="230.50" x2="557.00" y2="230.50" stroke="#7d7d7d" stroke-width="1.3" />
<line x1="580.70" y1="233.70" x2="616.00" y2="233.70" stroke="#7d7d7d" stroke-width="1.3" />
<line x1="637.80" y1="231.80" x2="673.30" y2="231.80" stroke="#7d7d7d" stroke-width="1.3" />
<text x="466.40" y="226.90" font-size="6.8" text-anchor="start" fill="#2a2526" stroke="#2a2526" stroke-width="0.18" font-weight="normal" ><tspan font-style="italic">P</tspan> = 1.55×10<tspan font-size="4" dy="-2.6">-117</tspan></text>
<text x="523.30" y="227.00" font-size="6.8" text-anchor="start" fill="#2a2526" stroke="#2a2526" stroke-width="0.18" font-weight="normal" ><tspan font-style="italic">P</tspan>=4.12×10<tspan font-size="4" dy="-2.6">-87</tspan></text>
<text x="580.90" y="229.60" font-size="6.8" text-anchor="start" fill="#2a2526" stroke="#2a2526" stroke-width="0.18" font-weight="normal" ><tspan font-style="italic">P</tspan>=1.69×10<tspan font-size="4" dy="-2.6">-73</tspan></text>
<text x="639.70" y="229.30" font-size="6.8" text-anchor="start" fill="#2a2526" stroke="#2a2526" stroke-width="0.18" font-weight="normal" ><tspan font-style="italic">P</tspan>=8.01×10<tspan font-size="4" dy="-2.6">-67</tspan></text>
<rect x="543.10" y="206.60" width="6.40" height="6.30" fill="#e8bc3b" stroke="none" stroke-width="0" />
<text x="552.80" y="212.90" font-size="8.2" text-anchor="start" fill="#2a2526" stroke="#2a2526" stroke-width="0.18" font-weight="normal" >Core</text>
<rect x="576.00" y="206.60" width="6.40" height="6.30" fill="#1e4b9e" stroke="none" stroke-width="0" />
<text x="585.60" y="212.90" font-size="8.2" text-anchor="start" fill="#2a2526" stroke="#2a2526" stroke-width="0.18" font-weight="normal" >Dispensable</text>
<g transform="translate(427.2,279) rotate(-90)">
<text x="0.00" y="0.00" font-size="8.3" text-anchor="middle" fill="#2a2526" stroke="#2a2526" stroke-width="0.18" font-weight="normal" >Log<tspan font-size="5" dy="1.5">2</tspan><tspan dy="-1.5">(FPKM)</tspan></text>
</g>
</svg>
</body></html>
